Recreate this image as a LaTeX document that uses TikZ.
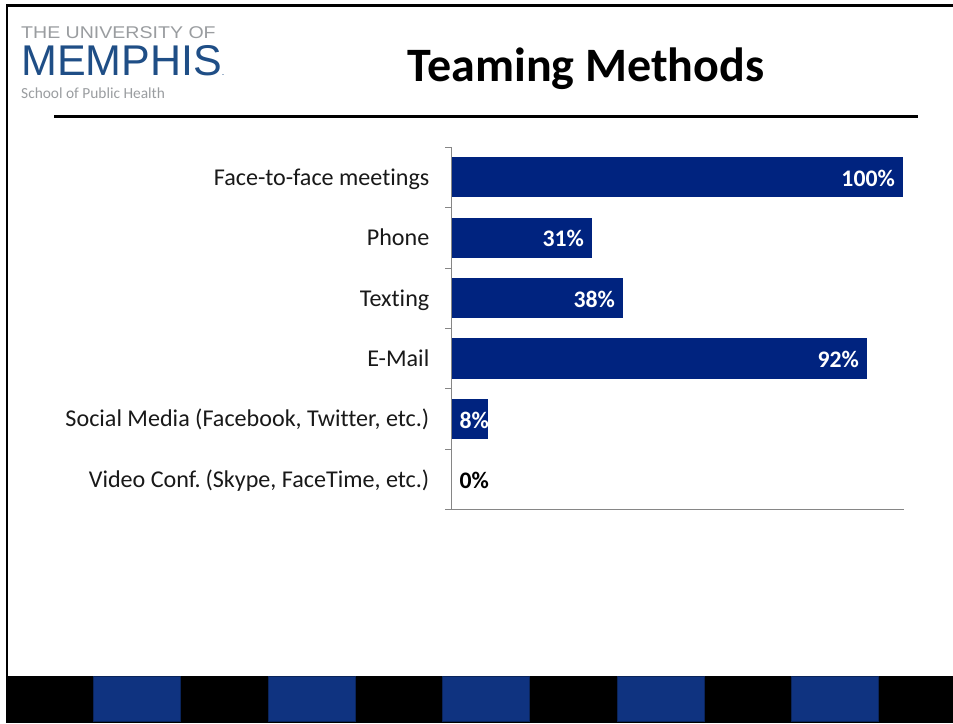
\documentclass[tikz,border=0pt]{standalone}
\usepackage{fontspec}
\setmainfont[Ligatures=CommonOff]{Carlito}
\newfontfamily\logofont{Liberation Sans}
\definecolor{barnavy}{HTML}{00237F}
\definecolor{footblue}{HTML}{0F3380}
\definecolor{axisgray}{HTML}{868686}
\definecolor{logoblue}{HTML}{1F4E86}
\definecolor{logogray}{HTML}{9A9DA0}
\tikzset{
 bar/.style={fill=barnavy,draw=none},
 foot/.style={fill=footblue,draw=footblue!70!black,line width=.5pt},
 catlabel/.style={anchor=base east,font=\fontsize{24.1}{26}\selectfont,text=black!90,inner sep=0pt},
 vallabel/.style={anchor=east,font=\fontsize{23.7}{26}\selectfont\bfseries,text=white,inner sep=0pt},
 tickline/.style={draw=axisgray,line width=.9pt}
}
\begin{document}
\begin{tikzpicture}[x=1pt,y=-1pt]
\useasboundingbox (0,0) rectangle (953,723);
\fill[white] (0,0) rectangle (953,723);
% frame
\fill[black] (6,4) rectangle (953,7);
\fill[black] (6,4) rectangle (8,723);
\fill[black] (6,676) rectangle (953,723);
\foreach \xa/\xb in {93.5/180.5,268/355,442.5/529.5,617/704,791.5/878.5}
  \draw[foot] (\xa,676) rectangle (\xb,721);
% logo
\node[anchor=west,inner sep=0pt,text=logogray,xscale=1.15,font=\logofont\fontsize{17}{20}\selectfont] (uni) at (21,32.5) {THE UNIVERSITY OF};
\node[anchor=west,inner sep=0pt,text=logoblue,font=\logofont\fontsize{43}{46}\selectfont] (mem) at (21,60.5) {MEMPHIS{\fontsize{9}{9}\selectfont.}};
\node[anchor=west,inner sep=0pt,text=logogray,font=\fontsize{15.4}{17}\selectfont] (sph) at (21,93) {School of Public Health};
% title
\node[inner sep=0pt,font=\fontsize{48}{52}\selectfont\bfseries] (title) at (586,69) {Teaming Methods};
\fill[black] (54,115) rectangle (918,118);
% axes
\draw[tickline] (451,147) -- (451,510);
\draw[tickline] (445,509.5) -- (903.5,509.5);
\foreach \y in {147,207.5,268,328,388.5,449,509.5}
  \draw[tickline] (445,\y) -- (451,\y);
% bars
\fill[bar] (451.5,157) rectangle (903,197);
\fill[bar] (451.5,217.5) rectangle (592,258);
\fill[bar] (451.5,278) rectangle (623,318);
\fill[bar] (451.5,338) rectangle (867,378.5);
\fill[bar] (451.5,398.5) rectangle (488,439);
% values
\node[vallabel] (v1) at (895,178) {100\%};
\node[vallabel] (v2) at (584,238.5) {31\%};
\node[vallabel] (v3) at (615,299) {38\%};
\node[vallabel] (v4) at (859,359.5) {92\%};
\node[vallabel,anchor=west] (v5) at (459.5,420) {8\%};
\node[vallabel,anchor=west,text=black] (v6) at (459.5,480.5) {0\%};
% categories
\node[catlabel] (c1) at (429.5,185) {Face-to-face meetings};
\node[catlabel] (c2) at (429.5,245.5) {Phone};
\node[catlabel] (c3) at (429.5,306) {Texting};
\node[catlabel] (c4) at (429.5,366) {E-Mail};
\node[catlabel] (c5) at (429.5,426.5) {Social Media (Facebook, Twitter, etc.)};
\node[catlabel] (c6) at (429.5,487) {Video Conf.\kern-2.5pt{} (Skype, FaceTime, etc.)};
\end{tikzpicture}
\end{document}
